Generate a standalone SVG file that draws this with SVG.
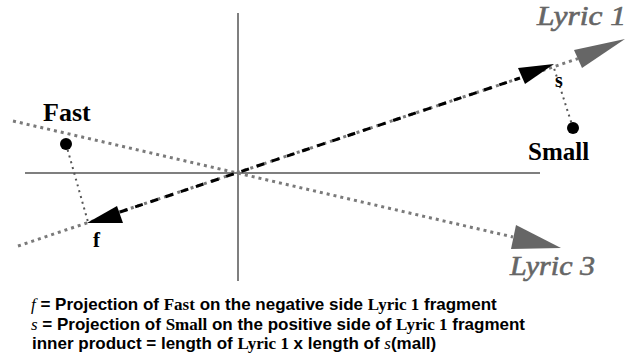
<svg xmlns="http://www.w3.org/2000/svg" width="636" height="362" viewBox="0 0 636 362">
<style>
.axis{stroke:#555;stroke-width:1.5;fill:none}
.dot{stroke:#7a7a7a;stroke-width:3;stroke-dasharray:3 4;fill:none}
.proj{stroke:#555;stroke-width:2;stroke-dasharray:2 4;fill:none}
.blk{stroke:#000;stroke-width:3;stroke-dasharray:8 8;fill:none}
.lyric{font-family:"Liberation Serif",serif;font-style:italic;font-size:27px;fill:#666;stroke:#666;stroke-width:0.6}
.lbl{font-family:"Liberation Serif",serif;font-weight:bold;fill:#000}
.cap{font-family:"Liberation Sans",Arial,sans-serif;font-weight:bold;font-size:17px;fill:#000}
.ser{font-family:"Liberation Serif",serif;font-weight:bold}
.it{font-family:"Liberation Serif",serif;font-style:italic;font-weight:normal}
</style>
<rect width="636" height="362" fill="#fff"/>
<g id="axes">
<line class="axis" x1="238" y1="13" x2="238" y2="281"/>
<line class="axis" x1="25" y1="173" x2="540" y2="173"/>
</g>
<g id="connectors">
<line class="dot" x1="18" y1="246" x2="578" y2="58.6"/>
<line class="dot" x1="13" y1="121" x2="513" y2="237"/>
<line class="blk" x1="120" y1="212" x2="520" y2="78"/>
<line class="proj" x1="66" y1="144" x2="88" y2="222"/>
<line class="proj" x1="573" y1="128" x2="553" y2="65"/>
<polygon points="574,50 582,68 625,39" fill="#666"/>
<polygon points="518,68 525,84 554,64" fill="#000"/>
<polygon points="87,223 117,206 123,223" fill="#000"/>
<polygon points="516,225 511,249 561,248" fill="#666"/>
</g>
<g id="lyric1"><text class="lyric" x="537" y="25" textLength="89" lengthAdjust="spacingAndGlyphs">Lyric 1</text></g>
<g id="lyric3"><text class="lyric" x="510" y="275" textLength="85" lengthAdjust="spacingAndGlyphs">Lyric 3</text></g>
<g id="fast">
<circle cx="66" cy="144" r="6" fill="#000"/>
<text class="lbl" x="43" y="121" font-size="26">Fast</text>
</g>
<g id="small">
<circle cx="573" cy="128" r="6" fill="#000"/>
<text class="lbl" x="528" y="160" font-size="25">Small</text>
</g>
<g id="f-label"><text class="lbl" x="93" y="247" font-size="21">f</text></g>
<g id="s-label"><text class="lbl" x="555" y="87" font-size="20">s</text></g>
<g id="caption">
<text class="cap" x="31" y="310"><tspan class="it">f</tspan> = Projection of <tspan class="ser">Fast</tspan> on the negative side <tspan class="ser">Lyric 1</tspan> fragment</text>
<text class="cap" x="31" y="330"><tspan class="it">s</tspan> = Projection of <tspan class="ser">Small</tspan> on the positive side of <tspan class="ser">Lyric 1</tspan> fragment</text>
<text class="cap" x="32" y="349">inner product = length of <tspan class="ser">Lyric 1</tspan> x length of <tspan class="it">s</tspan>(mall)</text>
</g>
</svg>
